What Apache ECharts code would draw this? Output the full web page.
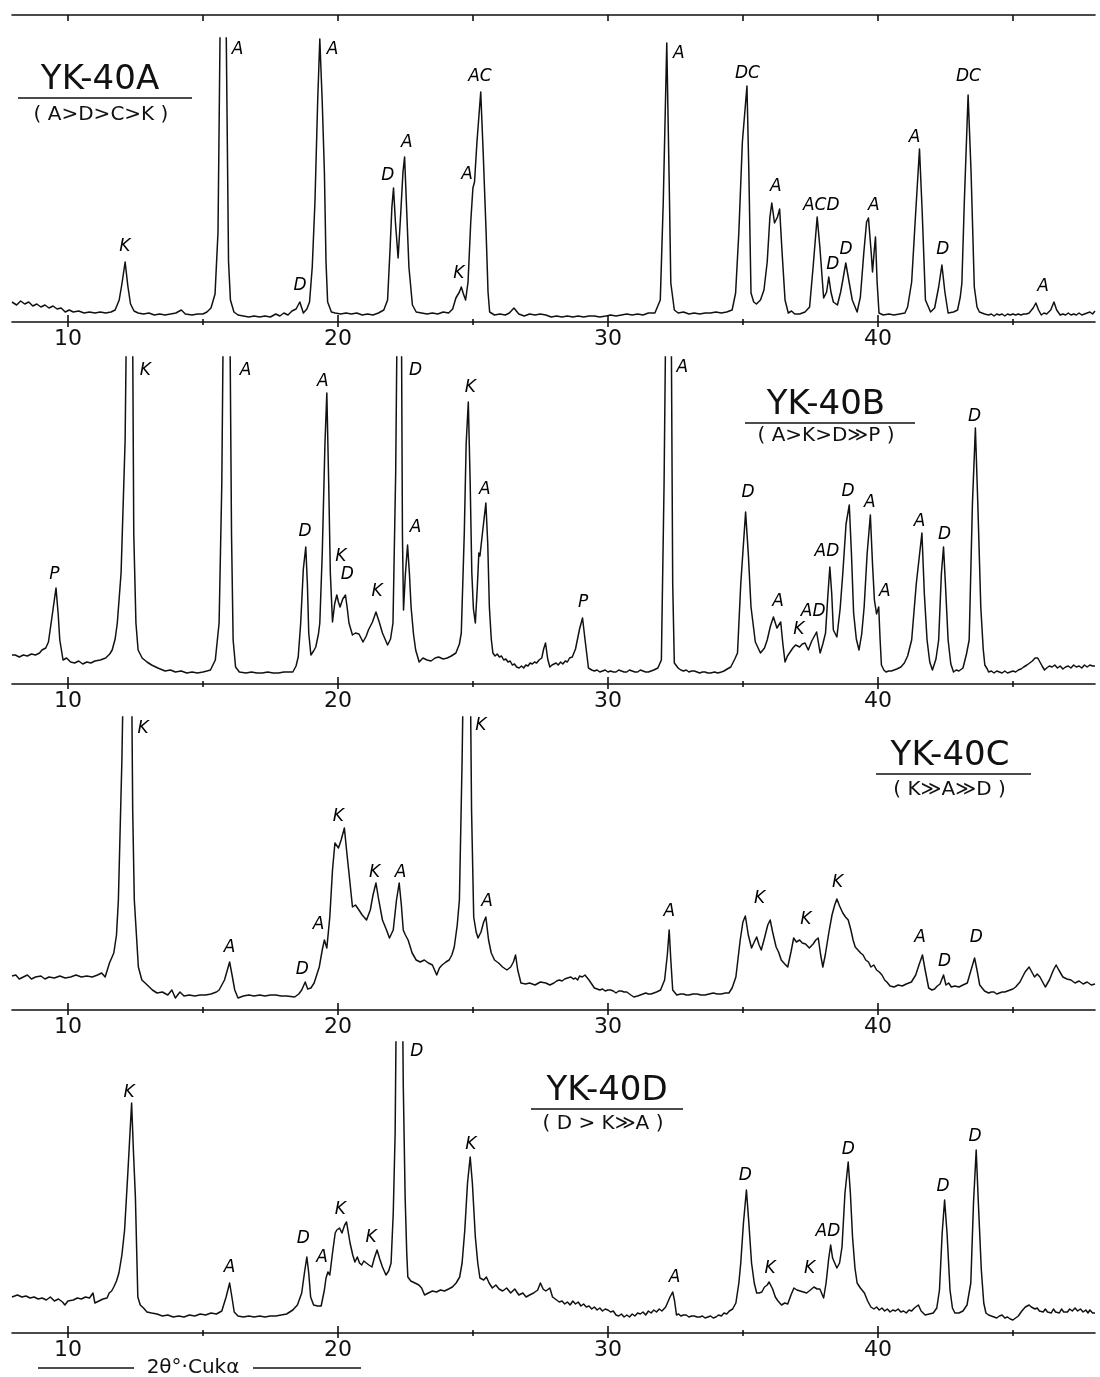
<!DOCTYPE html>
<html>
<head>
<meta charset="utf-8">
<script src="https://cdn.jsdelivr.net/npm/echarts@6/dist/echarts.min.js"></script>
<style>
html,body{margin:0;padding:0;background:#fff;}
#chart{width:1100px;height:1377px;}
</style>
</head>
<body>
<div id="chart"></div>
<script>
// ---------- DATA (2θ in degrees, relative intensity in arbitrary units) ----------
const twoThetaRange = [7.93, 48.04];
const majorTicks = [10, 20, 30, 40];
const minorTicks = [15, 25, 35, 45];
const allTicks = [10, 15, 20, 25, 30, 35, 40, 45];
const tickLabels = [10, 20, 30, 40];

const titles = ['YK-40A', 'YK-40B', 'YK-40C', 'YK-40D'];
const subtitles = ['( A>D>C>K )', '( A>K>D≫P )', '( K≫A≫D )', '( D > K≫A )'];
const axisName = '2θ°·Cukα';

const trace40A = [
[7.93,20],[8.1,17],[8.25,21],[8.4,18],[8.55,20],[8.7,16],[8.85,18],[9.0,15],[9.15,17],[9.3,14],[9.45,16],[9.6,13],[9.75,14],[9.9,10],[10.05,12],[10.2,10],[10.4,11],[10.6,9],[10.8,10],[11.0,9],[11.2,10],[11.4,9],[11.6,10],[11.75,12],[11.9,22],[12.0,38],[12.12,60],[12.22,36],[12.32,18],[12.45,11],[12.6,9],[12.8,8],[13.0,9],[13.2,7],[13.4,8],[13.6,7],[13.8,8],[14.0,9],[14.2,12],[14.35,8],[14.6,7],[14.8,8],[15.0,8],[15.15,10],[15.3,14],[15.45,28],[15.56,90],[15.64,300],[15.75,520],[15.86,300],[15.95,60],[16.02,22],[16.15,10],[16.3,7],[16.5,6],[16.7,5],[16.9,6],[17.1,5],[17.3,6],[17.5,5],[17.7,8],[17.85,6],[18.0,9],[18.15,7],[18.3,11],[18.45,13],[18.59,20],[18.72,9],[18.85,13],[18.95,20],[19.05,55],[19.15,120],[19.25,220],[19.33,283],[19.42,220],[19.5,150],[19.56,60],[19.62,20],[19.76,10],[19.9,9],[20.1,8],[20.3,9],[20.5,8],[20.7,9],[20.9,7],[21.1,8],[21.3,7],[21.5,9],[21.7,12],[21.84,22],[21.93,72],[22.0,115],[22.06,134],[22.13,100],[22.23,64],[22.33,110],[22.41,150],[22.47,165],[22.55,110],[22.63,55],[22.76,17],[22.9,10],[23.1,9],[23.3,8],[23.5,9],[23.7,8],[23.9,10],[24.1,9],[24.25,13],[24.37,24],[24.5,30],[24.57,35],[24.65,28],[24.73,22],[24.82,40],[24.92,100],[25.0,134],[25.06,140],[25.15,180],[25.29,230],[25.38,170],[25.49,89],[25.56,30],[25.62,10],[25.8,7],[26.0,8],[26.2,7],[26.35,9],[26.52,14],[26.7,8],[26.9,6],[27.1,8],[27.3,7],[27.5,8],[27.7,7],
[27.9,5],[28.1,6],[28.3,5],[28.5,6],[28.7,5],[28.9,6],[29.1,5],[29.3,6],[29.5,6],[29.7,5],[29.93,6],[30.1,7],[30.3,6],[30.5,7],[30.7,8],[30.9,7],[31.1,8],[31.3,7],[31.5,9],[31.74,9],[31.94,22],[32.05,120],[32.18,279],[32.27,140],[32.33,39],[32.46,12],[32.6,9],[32.8,10],[33.0,8],[33.2,9],[33.4,8],[33.6,9],[33.8,9],[34.0,10],[34.2,9],[34.4,10],[34.6,12],[34.73,29],[34.85,90],[34.98,180],[35.15,236],[35.22,150],[35.3,29],[35.4,20],[35.5,18],[35.65,22],[35.78,32],[35.9,60],[36.0,105],[36.07,119],[36.17,99],[36.28,105],[36.36,113],[36.45,70],[36.56,22],[36.68,9],[36.8,11],[36.92,8],[37.1,8],[37.3,10],[37.47,15],[37.6,55],[37.75,105],[37.85,75],[37.99,24],[38.1,30],[38.18,45],[38.26,30],[38.35,20],[38.5,17],[38.62,30],[38.72,45],[38.81,59],[38.92,42],[39.05,22],[39.23,10],[39.35,25],[39.48,70],[39.58,100],[39.65,104],[39.75,70],[39.8,50],[39.86,70],[39.91,85],[39.97,40],[40.04,9],[40.2,7],[40.4,8],[40.6,7],[40.8,8],[41.0,9],[41.1,15],[41.25,40],[41.4,110],[41.54,173],[41.64,110],[41.76,22],[41.95,10],[42.1,14],[42.25,35],[42.37,57],[42.48,30],[42.6,9],[42.8,10],[42.95,12],[43.05,25],[43.11,39],[43.2,120],[43.34,227],[43.45,150],[43.57,35],[43.67,15],[43.76,10],[43.95,8],[44.1,7],[44.2,8],[44.3,6],[44.4,8],[44.5,7],[44.6,8],[44.7,6],[44.8,8],[44.9,7],[45.0,8],[45.1,7],[45.2,8],[45.3,7],[45.4,8],[45.5,8],[45.6,9],[45.75,14],[45.85,19],[45.95,12],[46.05,7],[46.15,9],[46.25,8],[46.4,12],[46.52,20],[46.62,12],[46.75,7],[46.85,8],[46.95,7],[47.05,9],[47.15,7],[47.25,8],[47.35,7],[47.45,9],[47.55,7],[47.65,8],[47.75,9],[47.85,10],[47.95,8],[48.04,11]
];

const trace40B = [
[7.93,29],[8.05,29],[8.2,27],[8.35,29],[8.5,28],[8.65,30],[8.8,29],[8.95,31],[9.04,34],[9.18,36],[9.28,42],[9.4,65],[9.56,96],[9.64,70],[9.7,44],[9.82,24],[9.95,26],[10.1,22],[10.25,21],[10.4,23],[10.55,20],[10.7,22],[10.85,21],[11.0,23],[11.2,24],[11.4,26],[11.55,30],[11.64,34],[11.75,45],[11.83,61],[11.97,111],[12.12,244],[12.2,440],[12.29,640],[12.38,440],[12.44,150],[12.52,61],[12.6,34],[12.75,26],[12.93,22],[13.1,19],[13.33,16],[13.6,13],[13.8,14],[13.98,12],[14.2,13],[14.4,11],[14.6,12],[14.8,11],[15.0,12],[15.15,13],[15.28,14],[15.46,24],[15.6,61],[15.7,200],[15.78,440],[15.88,640],[15.98,440],[16.06,150],[16.12,44],[16.21,17],[16.35,12],[16.6,11],[16.8,12],[17.0,11],[17.2,11],[17.4,12],[17.6,11],[17.8,11],[18.0,12],[18.2,12],[18.33,12],[18.45,18],[18.53,27],[18.62,60],[18.72,115],[18.81,137],[18.87,100],[18.92,51],[19.0,29],[19.1,33],[19.18,37],[19.28,50],[19.33,61],[19.42,130],[19.52,240],[19.59,291],[19.66,200],[19.72,111],[19.8,62],[19.88,80],[19.96,89],[20.02,82],[20.08,77],[20.18,85],[20.28,89],[20.35,75],[20.41,61],[20.54,49],[20.65,51],[20.78,50],[20.93,42],[21.05,48],[21.13,54],[21.28,62],[21.41,72],[21.53,62],[21.65,51],[21.84,39],[21.95,45],[22.04,61],[22.14,211],[22.22,440],[22.28,640],[22.34,440],[22.39,150],[22.43,74],[22.5,110],[22.58,139],[22.65,110],[22.71,77],[22.8,50],[22.88,34],[23.01,22],[23.15,26],[23.3,24],[23.45,23],[23.6,26],[23.73,27],[23.9,25],[24.05,26],[24.2,28],[24.37,31],[24.5,40],[24.57,51],[24.68,150],[24.75,240],[24.83,282],[24.9,200],[24.96,111],[25.02,75],[25.09,61],[25.16,95],[25.22,131],[25.26,128],[25.35,150],[25.48,181],[25.55,140],[25.61,77],[25.68,45],[25.74,31],[25.82,28],[25.9,30],[25.98,27],[26.06,28],[26.14,24],[26.22,25],[26.3,22],[26.38,23],[26.46,19],[26.54,20],[26.62,17],[26.71,16],[26.8,18],[26.88,16],[26.96,19],[27.04,18],[27.12,21],[27.2,20],[27.28,22],[27.36,21],[27.45,24],[27.55,26],[27.62,35],[27.69,41],[27.77,25],[27.85,17],
[27.93,19],[28.0,18],[28.08,21],[28.16,19],[28.25,22],[28.33,20],[28.42,23],[28.5,22],[28.58,26],[28.68,27],[28.8,35],[28.95,55],[29.06,66],[29.15,45],[29.28,16],[29.4,14],[29.5,13],[29.6,14],[29.7,12],[29.8,13],[29.9,14],[30.0,12],[30.1,13],[30.2,12],[30.3,12],[30.4,14],[30.5,13],[30.6,12],[30.7,12],[30.8,14],[30.9,13],[31.0,12],[31.1,12],[31.2,14],[31.3,13],[31.4,12],[31.5,12],[31.6,13],[31.7,14],[31.85,16],[31.98,24],[32.08,200],[32.17,440],[32.25,640],[32.33,440],[32.4,100],[32.46,21],[32.6,16],[32.7,14],[32.8,13],[32.9,14],[33.0,12],[33.1,13],[33.2,13],[33.3,12],[33.4,11],[33.5,12],[33.6,12],[33.7,11],[33.8,11],[33.95,12],[34.07,11],[34.2,12],[34.3,13],[34.42,15],[34.55,17],[34.7,25],[34.8,31],[34.92,100],[35.1,172],[35.2,130],[35.3,77],[35.46,42],[35.65,31],[35.8,36],[35.9,44],[36.02,58],[36.13,67],[36.26,56],[36.4,62],[36.48,40],[36.56,22],[36.65,28],[36.75,32],[36.85,36],[36.95,39],[37.1,37],[37.2,40],[37.3,41],[37.42,34],[37.55,43],[37.65,48],[37.73,52],[37.86,31],[37.96,40],[38.06,51],[38.15,90],[38.22,117],[38.29,90],[38.35,54],[38.48,47],[38.6,75],[38.7,111],[38.82,160],[38.94,179],[39.02,130],[39.1,71],[39.2,45],[39.3,34],[39.4,50],[39.49,77],[39.6,130],[39.72,169],[39.8,120],[39.87,84],[39.95,70],[40.03,77],[40.08,45],[40.13,19],[40.22,14],[40.3,12],[40.4,13],[40.5,13],[40.6,14],[40.7,15],[40.85,17],[40.98,21],[41.1,28],[41.25,44],[41.42,100],[41.63,151],[41.72,90],[41.82,44],[41.92,22],[42.02,14],[42.15,25],[42.25,44],[42.35,110],[42.43,137],[42.5,100],[42.6,44],[42.7,20],[42.8,12],[42.9,14],[43.0,13],[43.15,16],[43.28,30],[43.38,44],[43.5,180],[43.61,256],[43.7,180],[43.81,77],[43.9,35],[43.96,19],[44.05,15],[44.1,12],[44.2,13],[44.3,11],[44.4,13],[44.5,12],[44.6,11],[44.7,13],[44.8,11],[44.9,12],[45.0,13],[45.1,12],[45.2,14],[45.3,15],[45.4,17],[45.52,19],[45.62,21],[45.72,23],[45.82,26],[45.92,26],[46.0,22],[46.08,18],[46.17,14],[46.25,16],[46.35,18],[46.45,17],[46.55,19],[46.65,16],[46.75,18],[46.85,15],[46.95,17],[47.05,18],[47.15,16],[47.25,19],[47.35,17],[47.45,18],[47.55,16],[47.65,19],[47.75,17],[47.85,19],[47.95,18],[48.04,18]
];

const trace40C = [
[7.93,34],[8.07,35],[8.2,31],[8.35,33],[8.5,35],[8.65,31],[8.8,33],[9.0,34],[9.15,31],[9.3,33],[9.5,32],[9.7,34],[9.9,32],[10.1,33],[10.3,35],[10.5,33],[10.7,34],[10.9,33],[11.1,35],[11.25,37],[11.38,33],[11.54,47],[11.7,57],[11.8,75],[11.87,110],[12.0,250],[12.12,440],[12.22,640],[12.33,440],[12.4,200],[12.46,110],[12.61,43],[12.74,30],[12.9,26],[13.13,20],[13.3,17],[13.5,18],[13.7,15],[13.85,20],[13.98,12],[14.15,18],[14.3,14],[14.5,15],[14.7,14],[14.9,15],[15.1,15],[15.3,16],[15.5,18],[15.6,20],[15.8,30],[15.99,48],[16.08,35],[16.18,20],[16.3,12],[16.5,14],[16.7,15],[16.9,14],[17.1,15],[17.3,14],[17.5,15],[17.7,15],[17.9,14],[18.1,14],[18.4,13],[18.55,16],[18.66,20],[18.79,28],[18.88,21],[19.0,22],[19.12,27],[19.31,43],[19.42,60],[19.5,70],[19.59,62],[19.7,93],[19.8,140],[19.89,167],[20.02,162],[20.12,170],[20.24,182],[20.32,160],[20.41,137],[20.54,103],[20.65,105],[20.78,100],[20.9,95],[21.06,90],[21.2,100],[21.3,115],[21.41,127],[21.5,112],[21.65,90],[21.8,80],[21.91,72],[22.05,80],[22.17,110],[22.27,127],[22.35,105],[22.42,80],[22.5,75],[22.6,70],[22.75,57],[22.9,50],[23.05,48],[23.2,50],[23.35,47],[23.5,45],[23.66,35],[23.76,42],[23.86,45],[24.0,48],[24.12,50],[24.22,55],[24.31,63],[24.42,85],[24.5,110],[24.6,250],[24.7,440],[24.78,640],[24.87,440],[24.95,200],[25.03,93],[25.12,78],[25.19,72],[25.3,78],[25.4,88],[25.48,93],[25.58,70],[25.68,57],[25.8,50],[25.95,47],[26.1,43],[26.26,40],[26.4,43],[26.5,48],[26.58,55],[26.66,40],[26.78,27],[26.95,26],[27.1,27],[27.3,25],[27.5,28],[27.7,27],[27.85,25],
[28.0,27],[28.1,29],[28.2,30],[28.3,29],[28.4,31],[28.5,32],[28.63,33],[28.72,31],[28.8,32],[28.88,30],[28.95,34],[29.05,33],[29.15,35],[29.3,30],[29.5,22],[29.6,21],[29.7,20],[29.8,21],[29.9,19],[30.0,20],[30.1,20],[30.2,19],[30.3,17],[30.4,19],[30.5,19],[30.6,18],[30.7,18],[30.85,15],[30.96,13],[31.1,14],[31.2,15],[31.3,16],[31.4,17],[31.5,16],[31.6,16],[31.7,17],[31.8,18],[31.95,20],[32.1,30],[32.2,55],[32.27,80],[32.33,50],[32.4,20],[32.55,15],[32.7,16],[32.8,16],[32.9,15],[33.0,15],[33.15,16],[33.3,16],[33.45,15],[33.6,15],[33.75,16],[33.9,17],[34.05,16],[34.2,16],[34.35,17],[34.48,17],[34.6,22],[34.74,33],[34.9,70],[35.0,88],[35.09,94],[35.2,75],[35.32,62],[35.42,68],[35.51,73],[35.6,65],[35.68,60],[35.8,72],[35.92,85],[36.01,90],[36.1,78],[36.23,63],[36.32,58],[36.42,50],[36.55,46],[36.66,43],[36.78,58],[36.88,72],[36.98,68],[37.1,70],[37.2,67],[37.32,66],[37.46,62],[37.6,66],[37.7,70],[37.79,72],[37.88,55],[37.96,43],[38.05,55],[38.18,77],[38.3,95],[38.4,105],[38.48,111],[38.58,104],[38.7,97],[38.8,93],[38.9,90],[39.0,80],[39.08,70],[39.16,63],[39.26,60],[39.36,57],[39.45,55],[39.55,50],[39.65,48],[39.74,43],[39.85,45],[39.95,40],[40.05,38],[40.15,35],[40.25,30],[40.33,28],[40.45,24],[40.6,23],[40.75,25],[40.9,24],[41.05,26],[41.24,28],[41.4,35],[41.52,45],[41.65,55],[41.75,40],[41.88,22],[42.0,20],[42.1,21],[42.2,24],[42.3,26],[42.43,35],[42.52,25],[42.62,27],[42.72,23],[42.85,24],[43.0,23],[43.15,25],[43.31,27],[43.45,40],[43.58,52],[43.67,40],[43.77,25],[43.95,19],[44.1,17],[44.2,18],[44.3,18],[44.4,16],[44.5,17],[44.6,18],[44.7,18],[44.8,19],[44.9,20],[45.0,21],[45.1,23],[45.26,28],[45.45,38],[45.6,43],[45.7,38],[45.8,33],[45.9,36],[46.0,33],[46.1,28],[46.2,23],[46.35,30],[46.5,40],[46.6,45],[46.7,40],[46.85,33],[47.0,31],[47.15,30],[47.3,27],[47.45,29],[47.6,26],[47.75,28],[47.9,25],[48.04,26]
];

const trace40D = [
[7.93,36],[8.13,38],[8.3,36],[8.45,37],[8.6,35],[8.75,36],[8.9,34],[9.05,35],[9.2,33],[9.35,36],[9.5,32],[9.65,34],[9.8,31],[9.89,28],[10.0,32],[10.2,33],[10.35,35],[10.5,34],[10.65,36],[10.8,35],[10.93,40],[11.0,30],[11.15,32],[11.3,34],[11.45,35],[11.53,40],[11.62,42],[11.7,46],[11.8,52],[11.89,60],[12.0,78],[12.1,103],[12.22,160],[12.36,230],[12.43,180],[12.5,136],[12.55,80],[12.59,36],[12.68,28],[12.8,25],[12.93,21],[13.1,20],[13.3,19],[13.5,17],[13.7,18],[13.9,16],[14.1,17],[14.3,16],[14.5,18],[14.7,17],[14.9,19],[15.1,18],[15.3,20],[15.5,19],[15.7,22],[15.86,36],[15.99,50],[16.08,35],[16.16,21],[16.3,17],[16.5,16],[16.7,17],[16.9,16],[17.1,17],[17.3,16],[17.5,17],[17.7,17],[17.9,18],[18.1,19],[18.33,23],[18.5,28],[18.66,40],[18.76,60],[18.85,76],[18.92,60],[18.99,36],[19.1,28],[19.25,27],[19.38,27],[19.5,43],[19.56,55],[19.63,61],[19.7,58],[19.8,80],[19.9,100],[19.96,103],[20.06,105],[20.15,100],[20.25,108],[20.32,111],[20.45,90],[20.55,78],[20.63,71],[20.72,76],[20.8,70],[20.88,68],[20.96,72],[21.05,70],[21.15,68],[21.26,66],[21.35,75],[21.45,83],[21.55,74],[21.65,66],[21.78,58],[21.88,62],[21.97,70],[22.05,120],[22.12,200],[22.2,440],[22.28,640],[22.36,440],[22.42,250],[22.49,136],[22.55,80],[22.59,56],[22.7,52],[22.85,50],[23.0,48],[23.1,45],[23.21,38],[23.35,40],[23.5,42],[23.65,41],[23.8,43],[23.95,42],[24.1,44],[24.24,46],[24.38,50],[24.51,56],[24.6,70],[24.7,103],[24.8,150],[24.9,176],[24.98,150],[25.09,96],[25.18,70],[25.26,55],[25.4,53],[25.5,56],[25.6,50],[25.72,45],[25.85,48],[25.97,44],[26.1,42],[26.25,45],[26.4,40],[26.55,44],[26.7,38],[26.85,40],[26.97,36],[27.1,38],[27.25,40],[27.4,43],[27.5,50],[27.6,44],[27.7,42],[27.85,45],[27.95,36],
[28.1,33],[28.2,31],[28.3,32],[28.4,29],[28.5,31],[28.6,28],[28.7,32],[28.8,29],[28.9,31],[29.0,27],[29.1,29],[29.2,26],[29.3,27],[29.4,24],[29.5,26],[29.6,23],[29.7,25],[29.8,22],[29.9,24],[30.0,23],[30.1,21],[30.2,22],[30.3,18],[30.4,17],[30.5,19],[30.6,16],[30.7,18],[30.8,16],[30.9,19],[31.0,17],[31.1,20],[31.2,19],[31.3,21],[31.4,18],[31.5,22],[31.6,20],[31.7,23],[31.8,21],[31.9,24],[32.0,22],[32.14,26],[32.3,36],[32.4,41],[32.47,32],[32.54,18],[32.62,19],[32.7,17],[32.8,18],[32.9,18],[33.0,16],[33.1,17],[33.2,17],[33.3,16],[33.4,16],[33.5,17],[33.6,15],[33.7,16],[33.8,17],[33.9,15],[34.0,16],[34.1,18],[34.2,17],[34.3,20],[34.4,19],[34.5,22],[34.62,24],[34.74,30],[34.85,50],[34.92,70],[35.02,110],[35.13,143],[35.22,110],[35.32,70],[35.42,50],[35.51,40],[35.6,40],[35.7,41],[35.8,46],[35.9,48],[35.97,51],[36.1,44],[36.2,36],[36.3,32],[36.43,28],[36.55,30],[36.66,29],[36.78,38],[36.89,45],[37.0,43],[37.12,42],[37.24,41],[37.36,40],[37.5,43],[37.63,46],[37.75,44],[37.85,44],[37.99,35],[38.08,50],[38.18,75],[38.25,88],[38.32,75],[38.4,70],[38.48,65],[38.58,70],[38.67,86],[38.78,140],[38.9,171],[38.98,140],[39.06,96],[39.15,65],[39.23,50],[39.35,45],[39.5,40],[39.62,32],[39.74,26],[39.85,24],[39.95,26],[40.05,23],[40.15,25],[40.25,22],[40.35,24],[40.45,21],[40.55,23],[40.65,22],[40.75,24],[40.85,21],[40.95,22],[41.05,20],[41.15,23],[41.25,22],[41.35,25],[41.5,28],[41.6,22],[41.75,18],[41.9,19],[42.05,20],[42.18,25],[42.28,43],[42.38,100],[42.47,133],[42.56,100],[42.67,43],[42.76,25],[42.85,20],[43.0,20],[43.15,22],[43.3,28],[43.44,50],[43.54,130],[43.64,183],[43.72,130],[43.83,63],[43.92,30],[44.0,20],[44.1,18],[44.2,17],[44.3,16],[44.4,15],[44.5,17],[44.6,18],[44.7,15],[44.8,16],[44.9,14],[45.0,13],[45.1,15],[45.2,17],[45.33,22],[45.46,26],[45.6,28],[45.68,26],[45.75,27],[45.82,24],[45.9,25],[45.98,22],[46.05,23],[46.12,21],[46.2,24],[46.28,21],[46.35,22],[46.42,20],[46.5,24],[46.58,21],[46.65,22],[46.72,20],[46.8,24],[46.88,21],[46.95,23],[47.02,21],[47.1,24],[47.2,22],[47.3,25],[47.4,22],[47.5,24],[47.6,21],[47.7,23],[47.78,20],[47.85,23],[47.95,20],[48.04,20]
];

// peak labels: [2θ, intensity at label centre, phase letters]
const labels40A = [
[12.11,75,'K'],[16.28,272,'A'],[18.6,36,'D'],[19.8,272,'A'],[21.85,146,'D'],[22.55,179,'A'],[24.48,48,'K'],[24.78,147,'A'],[25.26,245,'AC'],
[32.63,268,'A'],[35.17,248,'DC'],[36.22,135,'A'],[37.9,116,'ACD'],[38.33,57,'D'],[38.82,72,'D'],[39.85,116,'A'],[41.36,184,'A'],[42.4,72,'D'],[43.35,245,'DC'],[46.12,35,'A']
];
const labels40B = [
[9.5,109,'P'],[12.87,313,'K'],[16.58,313,'A'],[18.78,152,'D'],[19.44,302,'A'],[20.11,127,'K'],[20.35,109,'D'],[21.45,92,'K'],[22.88,313,'D'],[22.88,156,'A'],[24.9,296,'K'],[25.44,194,'A'],
[29.08,81,'P'],[32.76,316,'A'],[35.19,191,'D'],[36.3,82,'A'],[37.07,54,'K'],[37.6,72,'AD'],[38.11,132,'AD'],[38.89,192,'D'],[39.7,181,'A'],[40.26,92,'A'],[41.54,162,'A'],[42.47,149,'D'],[43.58,267,'D']
];
const labels40C = [
[12.78,281,'K'],[15.99,62,'A'],[18.68,40,'D'],[19.28,85,'A'],[20.02,193,'K'],[21.36,137,'K'],[22.32,137,'A'],[25.29,284,'K'],[25.52,108,'A'],
[32.27,98,'A'],[35.62,111,'K'],[37.33,90,'K'],[38.51,127,'K'],[41.56,72,'A'],[42.47,48,'D'],[43.64,72,'D']
];
const labels40D = [
[12.27,240,'K'],[15.99,65,'A'],[18.72,94,'D'],[19.41,75,'A'],[20.09,123,'K'],[21.23,95,'K'],[22.92,281,'D'],[24.92,188,'K'],
[32.47,55,'A'],[35.09,157,'D'],[36.01,64,'K'],[37.47,64,'K'],[38.15,101,'AD'],[38.9,183,'D'],[42.41,146,'D'],[43.6,196,'D']
];

// ---------- LAYOUT ----------
const FONT = '"DejaVu Sans", "Liberation Sans", sans-serif';
const INK = '#111111';
const LEFT = 12, WIDTH = 1083;
const panels = [
  {trace: trace40A, labels: labels40A, top: 38,   height: 284},
  {trace: trace40B, labels: labels40B, top: 357,  height: 327},
  {trace: trace40C, labels: labels40C, top: 717,  height: 293},
  {trace: trace40D, labels: labels40D, top: 1042, height: 291}
];

const grid = [], xAxis = [], yAxis = [], series = [];
const tickAxis = (gi, values, inside, length) => ({
  gridIndex: gi, type: 'value', min: twoThetaRange[0], max: twoThetaRange[1], position: 'bottom',
  splitLine: {show: false}, axisLine: {show: false}, axisLabel: {show: false},
  axisTick: {show: true, inside: inside, customValues: values, length: length, lineStyle: {color: INK, width: 1.6}}
});
panels.forEach((p, i) => {
  grid.push({left: LEFT, width: WIDTH, top: p.top, height: p.height});
  xAxis.push({
    gridIndex: i, type: 'value', min: twoThetaRange[0], max: twoThetaRange[1], position: 'bottom',
    splitLine: {show: false},
    axisLine: {show: true, onZero: false, lineStyle: {color: INK, width: 1.6}},
    axisTick: {show: true, customValues: majorTicks, length: 5, lineStyle: {color: INK, width: 1.6}},
    axisLabel: {show: true, customValues: tickLabels, fontSize: 22, color: INK, fontFamily: FONT, margin: 6}
  });
  xAxis.push(tickAxis(i, majorTicks, true, 7));
  xAxis.push(tickAxis(i, minorTicks, true, 3));
  xAxis.push(tickAxis(i, minorTicks, false, 3));
  yAxis.push({gridIndex: i, type: 'value', min: 0, max: p.height, show: false});
  series.push({
    type: 'line', xAxisIndex: 4 * i, yAxisIndex: i, data: p.trace,
    showSymbol: false, symbol: 'none', clip: true, silent: true,
    lineStyle: {color: INK, width: 1.5, join: 'round'}
  });
  series.push({
    type: 'scatter', xAxisIndex: 4 * i, yAxisIndex: i, symbolSize: 0, silent: true, clip: false,
    itemStyle: {opacity: 1},
    data: p.labels.map(l => ({value: [l[0], l[1]], name: l[2]})),
    label: {show: true, position: 'inside', formatter: '{b}', fontSize: 17, fontStyle: 'italic',
            color: '#000', opacity: 1, textBorderWidth: 0, fontFamily: FONT}
  });
});
// top ruler line of the first panel
grid.push({left: LEFT, width: WIDTH, top: 14, height: 1});
xAxis.push({
  gridIndex: 4, type: 'value', min: twoThetaRange[0], max: twoThetaRange[1], position: 'bottom',
  splitLine: {show: false},
  axisLine: {show: true, onZero: false, lineStyle: {color: INK, width: 1.6}},
  axisTick: {show: true, customValues: allTicks, length: 6, lineStyle: {color: INK, width: 1.6}},
  axisLabel: {show: false}
});
yAxis.push({gridIndex: 4, type: 'value', min: 0, max: 1, show: false});

// sample titles
const titleBoxes = [
  {cx: 100, ty: 80,   lx1: 18,  lx2: 192,  ly: 98,   sy: 115},
  {cx: 826, ty: 405,  lx1: 745, lx2: 915,  ly: 423,  sy: 436},
  {cx: 950, ty: 756,  lx1: 876, lx2: 1031, ly: 774,  sy: 790},
  {cx: 607, ty: 1091, lx1: 531, lx2: 683,  ly: 1109, sy: 1124}
];
const graphic = [];
titleBoxes.forEach((b, i) => {
  graphic.push({type: 'text', x: b.cx, y: b.ty, silent: true,
    style: {text: titles[i], fill: INK, font: '34px ' + FONT, align: 'center', verticalAlign: 'middle'}});
  graphic.push({type: 'line', silent: true, shape: {x1: b.lx1, y1: b.ly, x2: b.lx2, y2: b.ly},
    style: {stroke: INK, lineWidth: 1.5}});
  graphic.push({type: 'text', x: (b.lx1 + b.lx2) / 2 - 4, y: b.sy, silent: true,
    style: {text: subtitles[i], fill: INK, font: '20px ' + FONT, align: 'center', verticalAlign: 'middle'}});
});
// x-axis name at the bottom
graphic.push({type: 'line', silent: true, shape: {x1: 38, y1: 1368, x2: 134, y2: 1368}, style: {stroke: INK, lineWidth: 1.5}});
graphic.push({type: 'line', silent: true, shape: {x1: 253, y1: 1368, x2: 361, y2: 1368}, style: {stroke: INK, lineWidth: 1.5}});
graphic.push({type: 'text', x: 193, y: 1368, silent: true,
  style: {text: axisName, fill: INK, font: '20px ' + FONT, align: 'center', verticalAlign: 'middle'}});

const chart = echarts.init(document.getElementById('chart'), null, {renderer: 'canvas'});
chart.setOption({
  backgroundColor: '#ffffff',
  animation: false,
  grid, xAxis, yAxis, series, graphic
});
</script>
</body>
</html>
